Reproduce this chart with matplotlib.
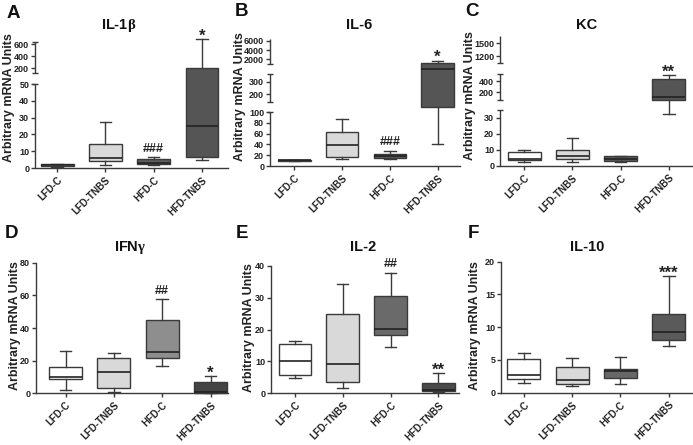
import numpy as np
import matplotlib
matplotlib.use('Agg')
import matplotlib.pyplot as plt
from matplotlib import transforms as mtransforms

plt.rcParams['font.family'] = ['Liberation Sans', 'DejaVu Sans']
plt.rcParams['font.weight'] = 'bold'
plt.rcParams['mathtext.fontset'] = 'custom'
plt.rcParams['mathtext.rm'] = 'Liberation Serif'
plt.rcParams['mathtext.it'] = 'Liberation Serif'

# ---------------- data ----------------
groups = ['LFD-C', 'LFD-TNBS', 'HFD-C', 'HFD-TNBS']

il1b_whislo = [0.6, 2.0, 1.6, 4.6]
il1b_q1 = [1.0, 4.0, 2.2, 6.8]
il1b_med = [1.6, 5.8, 3.2, 25.0]
il1b_q3 = [2.4, 14.5, 5.2, 200.0]
il1b_whishi = [2.6, 27.4, 6.3, 683.0]

il6_whislo = [9.0, 13.0, 12.3, 41.0]
il6_q1 = [10.0, 17.3, 14.8, 121.0]
il6_med = [10.5, 39.5, 18.5, 630.0]
il6_q3 = [11.0, 63.6, 22.2, 1140.0]
il6_whishi = [11.5, 87.6, 27.8, 1700.0]

kc_whislo = [2.5, 2.5, 2.5, 32.3]
kc_q1 = [3.75, 4.4, 2.9, 64.0]
kc_med = [4.2, 5.8, 4.2, 112.0]
kc_q3 = [8.75, 9.8, 5.8, 435.0]
kc_whishi = [9.6, 17.7, 6.25, 506.0]

ifng_whislo = [2.0, 0.6, 16.9, 0.0]
ifng_q1 = [8.6, 3.5, 21.4, 0.2]
ifng_med = [10.2, 13.3, 25.5, 1.0]
ifng_q3 = [16.3, 21.8, 44.9, 6.7]
ifng_whishi = [26.1, 24.9, 57.6, 10.6]

il2_whislo = [4.7, 1.8, 14.6, 0.3]
il2_q1 = [5.6, 3.5, 18.2, 0.6]
il2_med = [10.0, 9.1, 20.3, 1.0]
il2_q3 = [15.5, 24.8, 30.4, 3.3]
il2_whishi = [16.25, 34.4, 37.8, 6.25]

il10_whislo = [1.53, 1.0, 1.33, 7.14]
il10_q1 = [2.04, 1.28, 2.24, 8.0]
il10_med = [2.65, 1.94, 3.3, 9.3]
il10_q3 = [5.1, 4.0, 3.67, 12.0]
il10_whishi = [6.0, 5.25, 5.4, 17.75]

notes_il1b = [(2, '###'), (3, '*')]
notes_il6 = [(2, '###'), (3, '*')]
notes_kc = [(3, '**')]
notes_ifng = [(2, '##'), (3, '*')]
notes_il2 = [(2, '##'), (3, '**')]
notes_il10 = [(3, '***')]

# ---------------- layout ----------------
W, H = 693, 445
fig = plt.figure(figsize=(W / 100, H / 100), dpi=100)
AXC = '#3a3a3a'

panels = [
    dict(letter='A', title='IL-1$\\beta$',
         stats=(il1b_whislo, il1b_q1, il1b_med, il1b_q3, il1b_whishi), notes=notes_il1b,
         fills=['#ffffff', '#d9d9d9', '#5e5e5e', '#555555'],
         left=35, base=168, right=228, xlim=(-0.46, 3.54),
         brk=([0, 50, 117, 700], [0, 84, 95, 130]), segs=[(0, 50), (117, 633)],
         ticks=[0, 10, 20, 30, 40, 50, 200, 400, 600],
         let=(13, 13), tit=(119, 25), ylab=(9, 98)),
    dict(letter='B', title='IL-6',
         stats=(il6_whislo, il6_q1, il6_med, il6_q3, il6_whishi), notes=notes_il6,
         fills=['#ffffff', '#d9d9d9', '#5e5e5e', '#555555'],
         left=270, base=166, right=460, xlim=(-0.51, 3.47),
         brk=([0, 100, 141, 361, 925, 6400], [0, 54, 64.3, 92, 101.7, 127]),
         segs=[(0, 100), (141, 361), (925, 6400)],
         ticks=[0, 20, 40, 60, 80, 100, 200, 300, 2000, 4000, 6000],
         let=(242, 12), tit=(359, 25), ylab=(240, 97)),
    dict(letter='C', title='KC',
         stats=(kc_whislo, kc_q1, kc_med, kc_q3, kc_whishi), notes=notes_kc,
         fills=['#ffffff', '#d9d9d9', '#5e5e5e', '#555555'],
         left=500, base=165.7, right=692, xlim=(-0.5, 3.48),
         brk=([0, 35, 64, 524, 1042, 1672], [0, 55.7, 65.7, 91.7, 103, 129.7]),
         segs=[(0, 35), (64, 524), (1042, 1672)],
         ticks=[0, 10, 20, 30, 200, 400, 1200, 1500],
         let=(472, 12), tit=(587, 25), ylab=(470, 96)),
    dict(letter='D', title='IFN$\\gamma$',
         stats=(ifng_whislo, ifng_q1, ifng_med, ifng_q3, ifng_whishi), notes=notes_ifng,
         fills=['#ffffff', '#d9d9d9', '#8e8e8e', '#444444'],
         left=36, base=393.3, right=228, xlim=(-0.61, 3.36),
         brk=None, top=80, height=130.6, ticks=[0, 20, 40, 60, 80],
         let=(11, 233), tit=(130, 248), ylab=(15, 326)),
    dict(letter='E', title='IL-2',
         stats=(il2_whislo, il2_q1, il2_med, il2_q3, il2_whishi), notes=notes_il2,
         fills=['#ffffff', '#d9d9d9', '#6a6a6a', '#4a4a4a'],
         left=271, base=393.3, right=459, xlim=(-0.5, 3.43),
         brk=None, top=40, height=127.6, ticks=[0, 10, 20, 30, 40],
         let=(242, 233), tit=(363, 247), ylab=(249, 328)),
    dict(letter='F', title='IL-10',
         stats=(il10_whislo, il10_q1, il10_med, il10_q3, il10_whishi), notes=notes_il10,
         fills=['#ffffff', '#d9d9d9', '#676767', '#5a5a5a'],
         left=501, base=392.7, right=692, xlim=(-0.47, 3.48),
         brk=None, top=20, height=131, ticks=[0, 5, 10, 15, 20],
         let=(473, 233), tit=(587, 247), ylab=(475, 326)),
]

PT = 72 / 100.0  # points per pixel


def ftext(x, y, s, **kw):
    fig.text(x / W, 1 - y / H, s, **kw)


for p in panels:
    if p['brk'] is not None:
        xp, fp = p['brk']
        height = fp[-1]
    else:
        height = p['height']
    ax = fig.add_axes([p['left'] / W, (H - p['base']) / H,
                       (p['right'] - p['left']) / W, height / H])
    if p['brk'] is not None:
        xp_a = np.array(xp, float)
        fp_a = np.array(fp, float)
        ax.set_yscale('function', functions=(lambda v, a=xp_a, b=fp_a: np.interp(v, a, b),
                                              lambda h, a=xp_a, b=fp_a: np.interp(h, b, a)))
        ax.set_ylim(xp[0], xp[-1])
    else:
        ax.set_ylim(0, p['top'])

    wl, q1, md, q3, wh = p['stats']
    stats = [dict(whislo=wl[i], q1=q1[i], med=md[i], q3=q3[i], whishi=wh[i], fliers=[])
             for i in range(len(groups))]
    bp = ax.bxp(stats, positions=list(range(len(groups))), widths=0.68, patch_artist=True,
                showfliers=False, capwidths=0.24, manage_ticks=False,
                boxprops=dict(edgecolor=AXC, linewidth=1.0),
                whiskerprops=dict(color=AXC, linewidth=1.0),
                capprops=dict(color=AXC, linewidth=1.0),
                medianprops=dict(color='#222222', linewidth=1.2))
    for patch, c in zip(bp['boxes'], p['fills']):
        patch.set_facecolor(c)
    for k in ('boxes', 'whiskers', 'caps', 'medians'):
        for a in bp[k]:
            a.set_clip_on(False)

    ax.set_xlim(*p['xlim'])
    ax.set_xticks(range(len(groups)))
    ax.set_xticklabels(groups, rotation=45, ha='right', rotation_mode='anchor',
                       fontsize=7, fontweight='bold')
    ax.set_yticks(p['ticks'])
    ax.set_yticklabels([str(t) for t in p['ticks']], fontsize=6.5, fontweight='bold')
    ax.tick_params(axis='both', direction='out', length=3, width=1, color=AXC,
                   labelcolor='#222222', pad=1.2)
    ax.tick_params(axis='x', pad=2)
    ax.minorticks_off()
    ax.set_facecolor('none')
    for s in ('top', 'right'):
        ax.spines[s].set_visible(False)
    ax.spines['bottom'].set_color(AXC)
    ax.spines['bottom'].set_linewidth(1)
    ax.spines['left'].set_color(AXC)
    ax.spines['left'].set_linewidth(1)

    if p['brk'] is not None:
        ax.spines['left'].set_visible(False)
        trans = mtransforms.blended_transform_factory(ax.transAxes, ax.transData)
        for lo, hi in p['segs']:
            ax.plot([0, 0], [lo, hi], transform=trans, color=AXC, lw=1,
                    clip_on=False, solid_capstyle='butt')
            for v in (lo, hi):
                if v != xp[0] and v != xp[-1]:
                    ax.plot([0], [v], transform=trans, marker='_', markersize=5,
                            mew=1, color=AXC, clip_on=False)

    for gi, s in p['notes']:
        if '*' in s:
            ax.annotate(s, xy=(gi, wh[gi]), xytext=(0, -1.5 * PT), textcoords='offset points',
                        ha='center', va='baseline', fontsize=12, fontweight='bold',
                        color='#222222', annotation_clip=False)
        else:
            ax.annotate(s, xy=(gi, wh[gi]), xytext=(0, 5.5 * PT), textcoords='offset points',
                        ha='center', va='baseline', fontsize=9, fontweight='bold',
                        color='#222222', annotation_clip=False)

    ftext(p['let'][0], p['let'][1], p['letter'], fontsize=13.5, fontweight='bold',
          ha='center', va='center', color='#111111')
    ftext(p['tit'][0], p['tit'][1], p['title'], fontsize=10.5, fontweight='bold',
          ha='center', va='center', color='#111111')
    ftext(p['ylab'][0], p['ylab'][1], 'Arbitrary mRNA Units', fontsize=9.0,
          fontweight='bold', rotation=90, ha='center', va='center', color='#222222')

fig.savefig('out.png', dpi=100)
